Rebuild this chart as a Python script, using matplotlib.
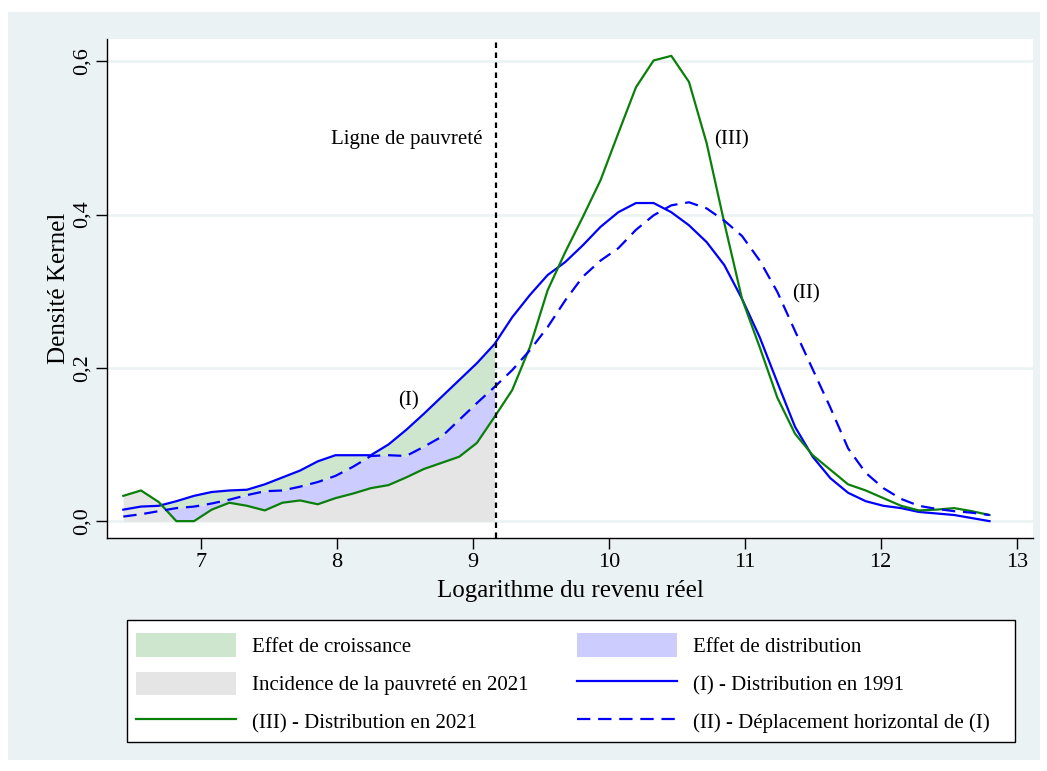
import numpy as np
import matplotlib
matplotlib.use("Agg")
import matplotlib.pyplot as plt
from matplotlib.patches import Rectangle, Patch
from matplotlib.lines import Line2D

plt.rcParams['font.family'] = ['Liberation Serif', 'DejaVu Serif']

# Kernel grid (log real income)
x_grid = [6.43, 6.56, 6.69, 6.82, 6.95, 7.08, 7.21, 7.34, 7.47, 7.60,
          7.73, 7.86, 7.99, 8.12, 8.25, 8.38, 8.51, 8.64, 8.77, 8.90,
          9.03, 9.16, 9.29, 9.42, 9.55, 9.68, 9.81, 9.94, 10.07, 10.20,
          10.33, 10.46, 10.59, 10.72, 10.85, 10.98, 11.11, 11.24, 11.37, 11.50,
          11.63, 11.76, 11.89, 12.02, 12.15, 12.28, 12.41, 12.54, 12.67, 12.80]

# (I) distribution 1991
dens_1991 = [0.015, 0.019, 0.020, 0.026, 0.033, 0.038, 0.040, 0.041, 0.048, 0.057,
             0.066, 0.078, 0.086, 0.086, 0.086, 0.100, 0.119, 0.140, 0.162, 0.184,
             0.206, 0.231, 0.266, 0.295, 0.321, 0.338, 0.360, 0.384, 0.403, 0.415,
             0.415, 0.403, 0.386, 0.364, 0.334, 0.290, 0.240, 0.181, 0.123, 0.084,
             0.056, 0.037, 0.026, 0.020, 0.017, 0.012, 0.010, 0.008, 0.004, 0.000]

# (II) horizontal shift of (I)
dens_shift = [0.006, 0.009, 0.013, 0.017, 0.019, 0.023, 0.028, 0.034, 0.039, 0.040,
              0.045, 0.051, 0.059, 0.071, 0.085, 0.086, 0.085, 0.097, 0.110, 0.132,
              0.154, 0.175, 0.197, 0.223, 0.253, 0.288, 0.319, 0.340, 0.356, 0.380,
              0.399, 0.412, 0.416, 0.408, 0.392, 0.372, 0.340, 0.299, 0.248, 0.198,
              0.148, 0.095, 0.063, 0.043, 0.029, 0.020, 0.016, 0.013, 0.011, 0.008]

# (III) distribution 2021
dens_2021 = [0.033, 0.040, 0.025, 0.000, 0.000, 0.015, 0.024, 0.020, 0.014, 0.024,
             0.027, 0.022, 0.030, 0.036, 0.043, 0.047, 0.057, 0.068, 0.076, 0.084,
             0.102, 0.136, 0.171, 0.227, 0.301, 0.351, 0.397, 0.445, 0.506, 0.566,
             0.601, 0.607, 0.573, 0.493, 0.389, 0.290, 0.227, 0.161, 0.114, 0.086,
             0.067, 0.048, 0.040, 0.030, 0.020, 0.014, 0.015, 0.017, 0.013, 0.008]

poverty_line = 9.17

x_ticks = [7, 8, 9, 10, 11, 12, 13]
y_ticks = [0.0, 0.2, 0.4, 0.6]
y_tick_labels = ['0,0', '0,2', '0,4', '0,6']

BG = '#EAF2F3'
C_GROWTH = '#CDE6CD'
C_DISTRIB = '#CCCCFF'
C_INCID = '#E5E5E5'
C_BLUE = '#0000FF'
C_GREEN = '#0A800A'
DASH = (0, (6, 3.5))

x = np.array(x_grid)
d91 = np.array(dens_1991)
dsh = np.array(dens_shift)
d21 = np.array(dens_2021)
poor = x <= poverty_line

fig = plt.figure(figsize=(10.47, 7.71), dpi=100, facecolor='white')
fig.patches.append(Rectangle((8 / 1047, 1 - 760 / 771), (1040 - 8) / 1047, (760 - 12) / 771,
                             transform=fig.transFigure, facecolor=BG, edgecolor='none', zorder=-10))

ax = fig.add_axes([107 / 1047, 1 - 538 / 771, (1033 - 107) / 1047, (538 - 39) / 771])
ax.set_facecolor('white')

# fills below the poverty line
ax.fill_between(x[poor], d21[poor], dsh[poor], color=C_DISTRIB, lw=0, zorder=1)
ax.fill_between(x[poor], dsh[poor], d91[poor], color=C_GROWTH, lw=0, zorder=1)
ax.fill_between(x[poor], 0, d21[poor], color=C_INCID, lw=0, zorder=2)

ax.plot(x, d91, color=C_BLUE, lw=1.6, zorder=4)
ax.plot(x, d21, color=C_GREEN, lw=1.6, zorder=4)
ax.plot(x, dsh, color=C_BLUE, lw=1.6, ls=DASH, zorder=4)
ax.axvline(poverty_line, color='black', lw=1.6, ls=(0, (2.5, 2)), zorder=5)

ax.text(9.07, 0.498, 'Ligne de pauvreté', ha='right', va='center', fontsize=15)
ax.text(10.90, 0.498, '(III)', ha='center', va='center', fontsize=15)
ax.text(11.45, 0.296, '(II)', ha='center', va='center', fontsize=15)
ax.text(8.53, 0.157, '(I)', ha='center', va='center', fontsize=15)

ax.set_xlim(6.31, 13.12)
ax.set_ylim(-0.022, 0.629)
ax.set_xticks(x_ticks)
ax.set_xticklabels([str(t) for t in x_ticks], fontsize=16)
ax.set_yticks(y_ticks)
ax.set_yticklabels(y_tick_labels, fontsize=16, rotation=90, va='center')
ax.grid(axis='y', color=BG, lw=1.8, zorder=0)
ax.set_axisbelow(True)
for side in ['top', 'right']:
    ax.spines[side].set_visible(False)
for side in ['left', 'bottom']:
    ax.spines[side].set_linewidth(1.0)
ax.tick_params(direction='out', length=7.7, width=1.0, pad=3)
ax.set_xlabel('Logarithme du revenu réel', fontsize=18, labelpad=6)
ax.set_ylabel('Densité Kernel', fontsize=18, labelpad=2)

# legend box drawn separately so its width matches the original
fig.patches.append(Rectangle((127 / 1047, 1 - 742 / 771), (1015 - 127) / 1047, (742 - 620) / 771,
                             transform=fig.transFigure, facecolor='white', edgecolor='black',
                             lw=1.0, zorder=-5))

handles = [
    Patch(facecolor=C_GROWTH, edgecolor='none', label='Effet de croissance'),
    Patch(facecolor=C_INCID, edgecolor='none', label='Incidence de la pauvreté en 2021'),
    Line2D([], [], color=C_GREEN, lw=1.6, label='(III) - Distribution en 2021'),
    Patch(facecolor=C_DISTRIB, edgecolor='none', label='Effet de distribution'),
    Line2D([], [], color=C_BLUE, lw=1.6, label='(I) - Distribution en 1991'),
    Line2D([], [], color=C_BLUE, lw=1.6, ls=DASH, label='(II) - Déplacement horizontal de (I)'),
]
leg = fig.legend(handles=handles, ncol=2, loc='upper left',
                 bbox_to_anchor=(127 / 1047, 1 - 624 / 771),
                 borderaxespad=0, fontsize=15, frameon=False,
                 handlelength=4.8, handleheight=1.35, borderpad=0.45, labelspacing=0.7,
                 handletextpad=0.77, columnspacing=2.3)

fig.savefig('out.png', dpi=100, facecolor='white')
